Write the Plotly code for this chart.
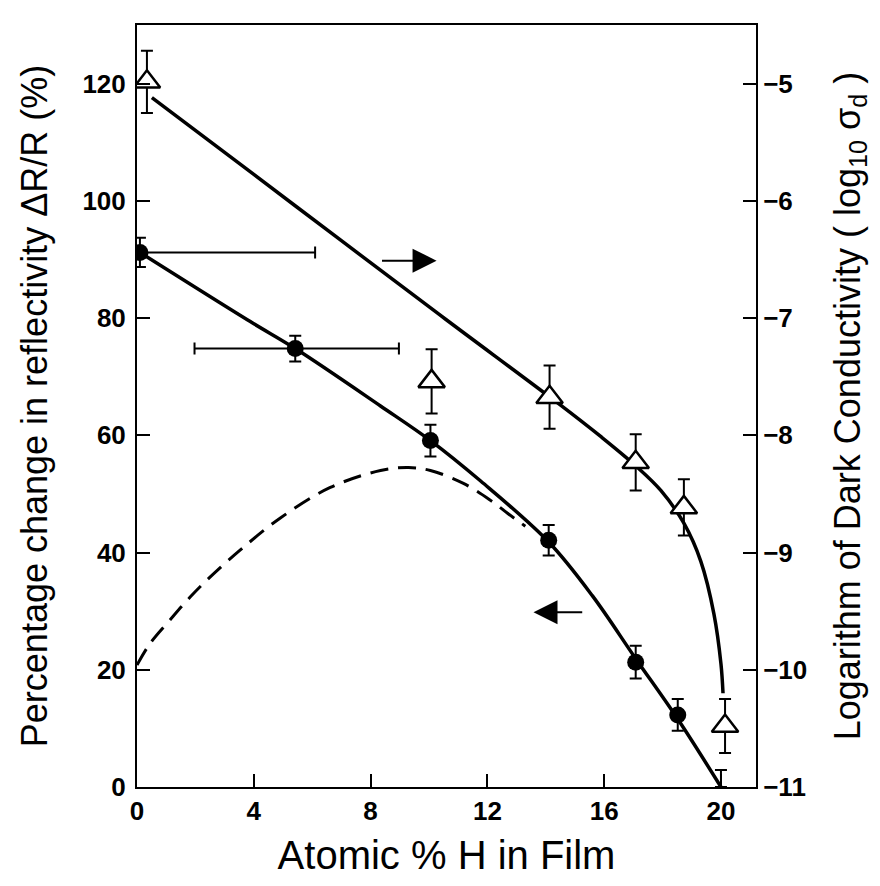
import plotly.graph_objects as go

# ---------------- data ----------------
# Filled circles: percentage change in reflectivity (left axis)
refl_x = [0.1, 5.42, 10.05, 14.1, 17.08, 18.52]
refl_y = [91.2, 74.8, 59.1, 42.1, 21.3, 12.3]
refl_yerr = [2.5, 2.2, 2.7, 2.6, 2.8, 2.7]
refl_xerr_plus = [6.0, 3.55, 0, 0, 0, 0]
refl_xerr_minus = [0.1, 3.45, 0, 0, 0, 0]

# End point at 20 % H (only the error bar is visible)
end_x = [20.0]
end_y = [0.0]
end_yerr_plus = [2.9]

# Open triangles: log10 dark conductivity (right axis)
cond_x = [0.34, 10.09, 14.13, 17.08, 18.73, 20.14]
cond_y = [-4.985, -7.54, -7.675, -8.23, -8.615, -10.48]
cond_err = [0.265, 0.275, 0.27, 0.24, 0.24, 0.23]

# Smooth curve through the triangles (right axis)
cond_curve_x = [0.51, 4.0, 7.0, 10.57, 14.44, 15.88, 17.08, 17.94, 18.73, 19.31, 19.76, 20.0, 20.07]
cond_curve_y = [-5.12, -5.775, -6.34, -7.01, -7.73, -8.01, -8.26, -8.47, -8.75, -9.075, -9.525, -9.95, -10.2]

# Smooth curve through the circles (left axis)
refl_curve_x = [0.1, 3.88, 5.42, 8.34, 10.05, 11.77, 14.1, 15.6, 17.08, 18.52, 20.0]
refl_curve_y = [91.2, 79.4, 74.8, 65.0, 59.1, 52.2, 41.8, 32.6, 21.9, 11.6, 0.0]

# Dashed curve (left axis)
dash_x = [0, 0.45, 1.13, 1.82, 2.5, 3.53, 4.91, 6.62, 8.34, 9.3, 10.05, 11.18, 12.11, 12.69, 13.3]
dash_y = [20.8, 24.5, 28.5, 32.4, 35.8, 40.4, 45.9, 51.1, 54.0, 54.5, 54.0, 51.8, 48.9, 46.7, 44.5]

# Arrows indicating which axis each curve belongs to: (tail x, head x, y on left axis)
arrow_right = (8.34, 10.26, 89.8)
arrow_left = (15.3, 13.58, 29.8)

x_ticks = [0, 4, 8, 12, 16, 20]
y_left_ticks = [0, 20, 40, 60, 80, 100, 120]
y_right_ticks = [-11, -10, -9, -8, -7, -6, -5]

# ---------------- figure ----------------
FONT = "Liberation Sans"
fig = go.Figure()

fig.add_trace(go.Scatter(
    x=dash_x, y=dash_y, mode="lines", line=dict(color="black", width=3, dash="18px,10px", shape="spline"),
    showlegend=False, hoverinfo="skip"))

fig.add_trace(go.Scatter(
    x=refl_curve_x, y=refl_curve_y, mode="lines", line=dict(color="black", width=3.5, shape="spline"),
    showlegend=False, hoverinfo="skip"))

fig.add_trace(go.Scatter(
    x=refl_x, y=refl_y, mode="markers",
    marker=dict(symbol="circle", size=17, color="black"),
    error_y=dict(type="data", array=refl_yerr, color="black", thickness=2, width=6),
    error_x=dict(type="data", symmetric=False, array=refl_xerr_plus, arrayminus=refl_xerr_minus,
                 color="black", thickness=2, width=6),
    showlegend=False))

fig.add_trace(go.Scatter(
    x=end_x, y=end_y, mode="markers",
    marker=dict(symbol="circle", size=1, color="rgba(0,0,0,0)"),
    error_y=dict(type="data", symmetric=False, array=end_yerr_plus, arrayminus=[0],
                 color="black", thickness=2, width=6),
    showlegend=False))

fig.add_trace(go.Scatter(
    x=cond_curve_x, y=cond_curve_y, yaxis="y2", mode="lines",
    line=dict(color="black", width=3.5, shape="spline"),
    showlegend=False, hoverinfo="skip"))

fig.add_trace(go.Scatter(
    x=cond_x, y=cond_y, yaxis="y2", mode="markers",
    marker=dict(symbol="triangle-up", size=23, color="white", line=dict(color="black", width=2.5)),
    error_y=dict(type="data", array=cond_err, color="black", thickness=2, width=6),
    showlegend=False))

for tail, head, yv in (arrow_right, arrow_left):
    fig.add_annotation(x=head, y=yv, ax=tail, ay=yv, xref="x", yref="y", axref="x", ayref="y",
                       text="", showarrow=True, arrowhead=2, arrowsize=2.4, arrowwidth=2,
                       arrowcolor="black")

axis_common = dict(showline=True, linecolor="black", linewidth=2, ticks="inside", ticklen=13,
                   tickwidth=2, tickcolor="black", showgrid=False, zeroline=False,
                   tickfont=dict(family=FONT, size=26, color="black", weight="bold"))

fig.update_layout(
    width=880, height=886,
    margin=dict(l=137, r=124, t=25, b=99),
    paper_bgcolor="white", plot_bgcolor="white",
    font=dict(family=FONT, color="black"),
    xaxis=dict(range=[0, 21.2], tickvals=x_ticks, mirror=True,
               title=dict(text="Atomic % H in Film", font=dict(family=FONT, size=40), standoff=16),
               **axis_common),
    yaxis=dict(range=[0, 130], tickvals=y_left_ticks, mirror=True, ticklabelstandoff=4,
               title=dict(text="Percentage change in reflectivity ΔR/R (%)",
                          font=dict(family=FONT, size=36), standoff=24),
               **axis_common),
    yaxis2=dict(range=[-11, -4.5], tickvals=y_right_ticks,
                overlaying="y", side="right",
                title=dict(text="Logarithm of Dark Conductivity ( log<sub>10</sub> σ<sub>d</sub> )",
                           font=dict(family=FONT, size=36), standoff=28),
                **axis_common),
)

fig.write_html("out.html")
